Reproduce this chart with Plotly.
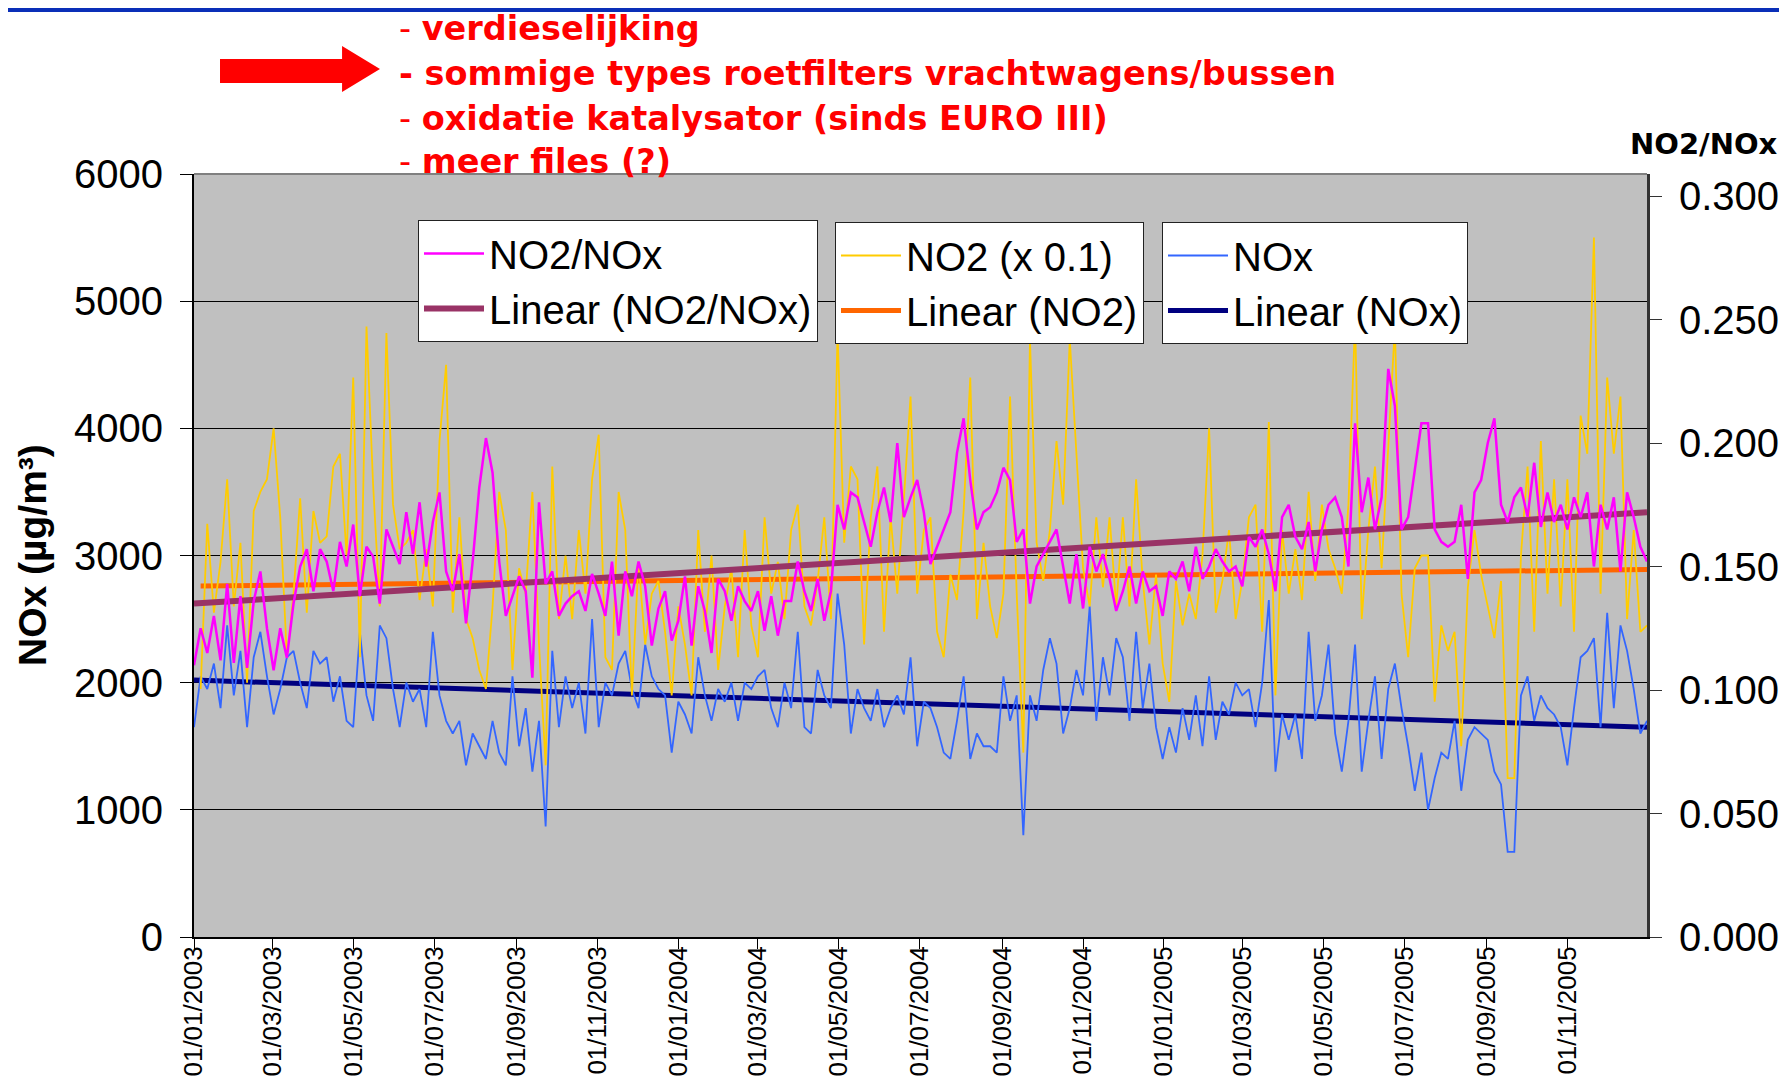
"""NOx, NO2 and NO2/NOx daily series 2003-2005 with linear trends (Plotly)."""

import pandas as pd
import plotly.graph_objects as go

START = "2003-01-01"
STEP = "5D"

# NOx (µg/m³), left axis
NOX = [
    1650, 2050, 1950, 2150, 1800, 2450, 1900, 2250, 1650, 2200,
    2400, 2050, 1750, 1950, 2200, 2250, 2000, 1800, 2250, 2150,
    2200, 1850, 2050, 1700, 1650, 2400, 1900, 1700, 2450, 2350,
    1950, 1650, 2000, 1850, 1950, 1650, 2400, 1900, 1700, 1600,
    1700, 1350, 1600, 1500, 1400, 1700, 1450, 1350, 2050, 1500,
    1800, 1300, 1700, 870, 2250, 1650, 2050, 1800, 2000, 1600,
    2500, 1650, 2000, 1900, 2150, 2250, 1950, 1800, 2300, 2050,
    1950, 1900, 1450, 1850, 1750, 1600, 2200, 1900, 1700, 1950,
    1850, 2000, 1700, 2000, 1950, 2050, 2100, 1800, 1650, 2000,
    1800, 2400, 1650, 1600, 2100, 1900, 1800, 2700, 2300, 1600,
    1950, 1800, 1700, 1950, 1650, 1800, 1900, 1750, 2200, 1500,
    1850, 1800, 1650, 1450, 1400, 1700, 2050, 1400, 1600, 1500,
    1500, 1450, 2050, 1700, 1900, 800, 1900, 1700, 2100, 2350,
    2150, 1600, 1800, 2100, 1900, 2600, 1700, 2200, 1900, 2350,
    2200, 1700, 2400, 1800, 2150, 1650, 1400, 1650, 1450, 1800,
    1550, 1900, 1500, 2050, 1550, 1850, 1750, 2000, 1900, 1950,
    1650, 2000, 2650, 1300, 1750, 1550, 1750, 1400, 2400, 1700,
    1900, 2300, 1600, 1300, 1700, 2300, 1300, 1700, 2050, 1400,
    1950, 2150, 1800, 1500, 1150, 1450, 1000, 1250, 1450, 1400,
    1700, 1150, 1550, 1650, 1600, 1550, 1300, 1200, 670, 670,
    1900, 2050, 1700, 1900, 1800, 1750, 1650, 1350, 1800, 2200,
    2250, 2350, 1650, 2550, 1800, 2450, 2250, 1950, 1600, 1700,
]

# NO2 (x 0.1), left axis
NO2 = [
    None, 1950, 3250, 2550, 2950, 3600, 2600, 3100, 2000, 3350,
    3500, 3600, 4000, 3300, 2200, 2700, 3450, 2550, 3350, 3100,
    3150, 3700, 3800, 3000, 4400, 2200, 4800, 3550, 2600, 4750,
    3400, 3050, 3100, 3200, 2650, 3050, 2600, 3900, 4500, 2550,
    3300, 2500, 2350, 2100, 1950, 2600, 3500, 3200, 2100, 2900,
    2700, 3500, 2300, 1350, 3700, 2500, 3000, 2500, 3200, 2700,
    3600, 3950, 2200, 2100, 3500, 3200, 1900, 2950, 2300, 2700,
    2800, 2400, 1900, 2600, 2300, 1900, 3200, 2400, 3000, 2100,
    2600, 2900, 2200, 3200, 2450, 2200, 3300, 2700, 2950, 2500,
    3200, 3400, 2600, 2450, 2800, 3300, 2500, 4750, 3100, 3700,
    3600, 2300, 3300, 3700, 2400, 3300, 2700, 3450, 4250, 2700,
    3200, 3300, 2400, 2200, 2850, 2650, 3350, 4400, 2500, 3100,
    2600, 2350, 2700, 4250, 2700, 1450, 4700, 3100, 2800, 3200,
    3900, 3400, 4700, 3800, 2900, 2600, 3300, 2750, 3300, 2600,
    3300, 2600, 3600, 2800, 2300, 2850, 2150, 1850, 2800, 2450,
    2700, 2500, 3000, 4000, 2550, 2800, 3200, 2500, 2800, 3300,
    3400, 2400, 4050, 1900, 3200, 2700, 3050, 2650, 3500, 2800,
    3400, 3050, 2900, 2700, 3400, 4850, 2500, 3200, 3700, 2900,
    3900, 4800, 2700, 2200, 2900, 3000, 3000, 1850, 2450, 2250,
    2400, 1500, 2750, 3200, 2850, 2600, 2350, 2800, 1250, 1250,
    3000, 3700, 2400, 3900, 2700, 3600, 2600, 3600, 2400, 4100,
    3800, 5500, 2700, 4400, 3800, 4250, 2500, 3200, 2400, 2450,
]

# NO2/NOx ratio, right axis
RATIO = [
    0.110, 0.125, 0.115, 0.130, 0.112, 0.143, 0.111, 0.138, 0.109, 0.136,
    0.148, 0.125, 0.108, 0.125, 0.113, 0.135, 0.150, 0.157, 0.140, 0.157,
    0.152, 0.140, 0.160, 0.150, 0.167, 0.138, 0.158, 0.154, 0.135, 0.165,
    0.158, 0.151, 0.172, 0.155, 0.176, 0.150, 0.168, 0.180, 0.148, 0.140,
    0.155, 0.127, 0.152, 0.182, 0.202, 0.188, 0.152, 0.130, 0.138, 0.146,
    0.140, 0.105, 0.176, 0.143, 0.148, 0.130, 0.135, 0.138, 0.140, 0.132,
    0.147, 0.139, 0.130, 0.152, 0.122, 0.148, 0.138, 0.152, 0.142, 0.118,
    0.133, 0.140, 0.120, 0.128, 0.146, 0.118, 0.142, 0.132, 0.115, 0.145,
    0.140, 0.128, 0.142, 0.136, 0.132, 0.140, 0.124, 0.138, 0.122, 0.136,
    0.136, 0.152, 0.140, 0.132, 0.145, 0.128, 0.140, 0.175, 0.165, 0.180,
    0.178, 0.168, 0.158, 0.172, 0.182, 0.168, 0.200, 0.170, 0.178, 0.185,
    0.172, 0.151, 0.158, 0.165, 0.172, 0.196, 0.210, 0.185, 0.165, 0.172,
    0.174, 0.180, 0.190, 0.185, 0.160, 0.165, 0.135, 0.150, 0.155, 0.160,
    0.165, 0.150, 0.135, 0.155, 0.133, 0.158, 0.148, 0.155, 0.145, 0.132,
    0.140, 0.150, 0.135, 0.148, 0.140, 0.142, 0.130, 0.148, 0.145, 0.152,
    0.140, 0.158, 0.145, 0.150, 0.157, 0.152, 0.148, 0.150, 0.142, 0.162,
    0.158, 0.165, 0.155, 0.140, 0.170, 0.175, 0.162, 0.157, 0.168, 0.148,
    0.165, 0.175, 0.178, 0.170, 0.150, 0.208, 0.172, 0.186, 0.165, 0.178,
    0.230, 0.215, 0.165, 0.170, 0.190, 0.208, 0.208, 0.165, 0.160, 0.158,
    0.160, 0.175, 0.145, 0.180, 0.185, 0.200, 0.210, 0.175, 0.168, 0.178,
    0.182, 0.170, 0.192, 0.166, 0.180, 0.168, 0.175, 0.165, 0.178, 0.170,
    0.180, 0.150, 0.175, 0.165, 0.178, 0.148, 0.180, 0.170, 0.158, 0.152,
]

# linear trends (start, end)
TREND_DATES = ["2003-01-01", "2005-12-31"]
NO2_TREND_DATES = ["2003-01-06", "2005-12-31"]
NOX_TREND = [2020, 1650]
NO2_TREND = [2760, 2890]
RATIO_TREND = [0.135, 0.172]

NOTES = [
    "- <b>verdieselijking</b>",
    "<b>- sommige types roetfilters vrachtwagens/bussen</b>",
    "- <b>oxidatie katalysator (sinds EURO III)</b>",
    "- <b>meer files (?)</b>",
]
RATIO_TICKS = [0.0, 0.05, 0.10, 0.15, 0.20, 0.25, 0.30]

# page geometry in screenshot px; the browser puts the figure 8 px in
OFF = 8
W, H = 1787 - OFF, 1089 - OFF
L, R, T, B = 194 - OFF, 1647 - OFF, 174 - OFF, 937 - OFF


def px(x):
    return (x - OFF - L) / (R - L)


def py(y):
    return 1 - (y - OFF - T) / (B - T)


dates = pd.date_range(START, periods=len(NOX), freq=STEP)

fig = go.Figure()
fig.add_trace(go.Scatter(x=TREND_DATES, y=NOX_TREND, mode="lines", name="Linear (NOx)",
                         line=dict(color="#000080", width=5), legend="legend3", legendrank=2))
fig.add_trace(go.Scatter(x=NO2_TREND_DATES, y=NO2_TREND, mode="lines", name="Linear (NO2)",
                         line=dict(color="#FF6600", width=5), legend="legend2", legendrank=2))
fig.add_trace(go.Scatter(x=dates, y=NOX, mode="lines", name="NOx",
                         line=dict(color="#3366FF", width=1.8), legend="legend3", legendrank=1))
fig.add_trace(go.Scatter(x=dates, y=NO2, mode="lines", name="NO2 (x 0.1)",
                         line=dict(color="#FFCC00", width=1.8), legend="legend2", legendrank=1))
fig.add_trace(go.Scatter(x=TREND_DATES, y=RATIO_TREND, mode="lines", name="Linear (NO2/NOx)",
                         line=dict(color="#993366", width=6), yaxis="y2", legendrank=2))
fig.add_trace(go.Scatter(x=dates, y=RATIO, mode="lines", name="NO2/NOx",
                         line=dict(color="#FF00FF", width=2.5), yaxis="y2", legendrank=1))

legend_style = dict(bgcolor="white", bordercolor="#222", borderwidth=1,
                    font=dict(family="Liberation Sans", size=40, color="black"),
                    xanchor="left", yanchor="top", tracegroupgap=0, itemwidth=60)

fig.update_layout(
    width=W, height=H, autosize=False,
    margin=dict(l=L, r=W - R, t=T, b=H - B, pad=0),
    paper_bgcolor="white", plot_bgcolor="#C0C0C0",
    font=dict(family="Liberation Sans", color="black"),
    legend=dict(x=px(418), y=py(220), **legend_style),
    legend2=dict(x=px(835), y=py(222), **legend_style),
    legend3=dict(x=px(1162), y=py(222), **legend_style),
    xaxis=dict(
        type="date", range=[dates[0], dates[-1]], tick0=START, dtick="M2",
        tickformat="%d/%m/%Y", tickangle=-90, tickfont=dict(size=26),
        ticks="outside", ticklen=10, tickcolor="black", ticklabelstandoff=-13,
        showgrid=False, showline=True, linecolor="black", linewidth=2, automargin=False,
    ),
    yaxis=dict(
        range=[0, 6000], dtick=1000, tickfont=dict(size=40), ticks="outside",
        ticklen=12, tickcolor="black", ticklabelstandoff=9, automargin=False,
        showgrid=True, gridcolor="black", gridwidth=1, zeroline=False,
        showline=True, linecolor="black", linewidth=2,
    ),
    yaxis2=dict(
        overlaying="y", side="right", range=[0, 0.3 * (B - T) / 741],
        tickvals=RATIO_TICKS, tickformat=".3f", tickfont=dict(size=40),
        ticks="outside", ticklen=12, tickcolor="#333", ticklabelstandoff=9,
        showgrid=False, zeroline=False, showline=True, linecolor="#333", linewidth=3,
        automargin=False,
    ),
)

# plot border (top edge is grey in the original)
fig.add_shape(type="line", xref="paper", yref="paper", x0=0, x1=1, y0=1, y1=1,
              line=dict(color="#808080", width=2))
# blue bar across the top of the slide
fig.add_shape(type="rect", xref="paper", yref="paper", x0=px(OFF), x1=px(W + OFF),
              y0=py(OFF), y1=py(OFF + 4), fillcolor="#0a2fb8", line=dict(width=0))
# red arrow pointing at the notes
arrow = [(220, 59), (342, 59), (342, 46), (380, 69), (342, 92), (342, 83), (220, 83)]
path = "M " + " L ".join(f"{px(x):.4f},{py(y):.4f}" for x, y in arrow) + " Z"
fig.add_shape(type="path", xref="paper", yref="paper", path=path,
              fillcolor="#FF0000", line=dict(width=0))

for text, y in zip(NOTES, [28, 73, 118, 162]):
    fig.add_annotation(text=text, xref="paper", yref="paper", x=px(397), y=py(y),
                       xanchor="left", yanchor="middle", showarrow=False,
                       font=dict(family="DejaVu Sans", size=33.5, color="#FF0000"))

fig.add_annotation(text="<b>NOx (µg/m³)</b>", xref="paper", yref="paper",
                   x=px(32), y=py(555), textangle=-90, showarrow=False,
                   xanchor="center", yanchor="middle",
                   font=dict(family="Liberation Sans", size=39, color="black"))
fig.add_annotation(text="<b>NO2/NOx</b>", xref="paper", yref="paper",
                   x=px(1704), y=py(144), showarrow=False,
                   xanchor="center", yanchor="middle",
                   font=dict(family="DejaVu Sans", size=29, color="black"))

fig.write_html("out.html")
